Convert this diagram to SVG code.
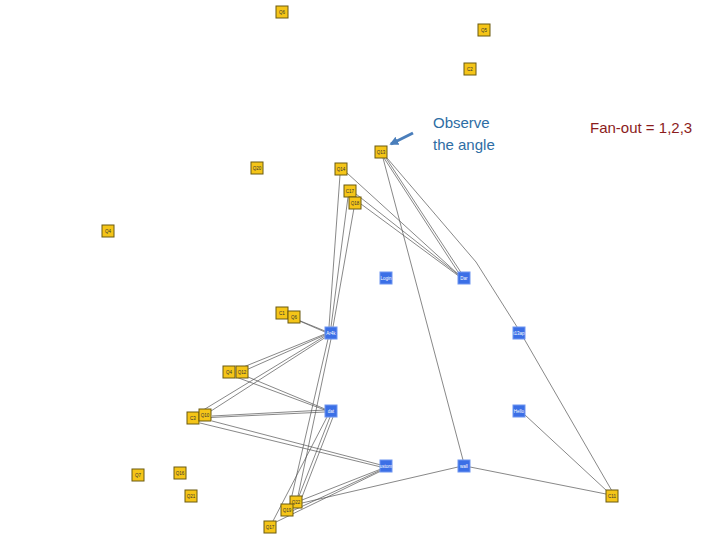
<svg xmlns="http://www.w3.org/2000/svg" width="720" height="540" viewBox="0 0 720 540">
<defs>
<style>
.y rect{fill:#f5c518;stroke:#6b5a10;stroke-width:1}
.b rect{fill:#3b6fe6;stroke:#6f95f0;stroke-width:1}
.y text{font-family:"Liberation Sans",Arial,sans-serif;font-size:4.5px;fill:#333;text-anchor:middle}
.b text{font-family:"Liberation Sans",Arial,sans-serif;font-size:4.5px;fill:#fff;text-anchor:middle}
#edges path{fill:none;stroke:#555;stroke-width:0.7}
.note{font-family:"Liberation Sans",Arial,sans-serif;font-size:15px}
</style>
<marker id="ah" viewBox="0 0 10 10" refX="8" refY="5" markerWidth="3" markerHeight="3" orient="auto"><path d="M0,0L10,5L0,10z" fill="#4a7ebb"/></marker>
</defs>
<rect width="720" height="540" fill="#fff"/>
<g id="edges">
<path d="M383,158L463,460"/>
<path d="M384,158L460,275"/>
<path d="M386,158L462,274"/>
<path d="M387,158L476,262L519,330L612,491"/>
<path d="M347,173L459,275"/>
<path d="M356,194L460,276"/>
<path d="M361,204L460,277"/>
<path d="M340,175L329,327"/>
<path d="M348,197L331,327"/>
<path d="M354,208L333,327"/>
<path d="M298,320L325,331"/>
<path d="M288,316L325,332"/>
<path d="M325,334L236,370"/>
<path d="M325,335L246,370"/>
<path d="M325,336L200,412"/>
<path d="M326,337L211,411"/>
<path d="M248,377L325,409"/>
<path d="M236,377L325,410"/>
<path d="M212,416L325,410"/>
<path d="M200,418L325,412"/>
<path d="M212,421L381,465"/>
<path d="M200,423L381,467"/>
<path d="M328,339L290,504"/>
<path d="M298,496L331,339"/>
<path d="M330,417L299,496"/>
<path d="M333,417L302,497"/>
<path d="M273,521L327,417"/>
<path d="M302,500L381,469"/>
<path d="M292,511L381,470"/>
<path d="M276,522L381,471"/>
<path d="M302,503L458,467"/>
<path d="M470,467L606,494"/>
<path d="M525,415L607,491"/>
</g>
<g id="n_Q6a" class="y"><rect x="276" y="6" width="12" height="12"/><text x="282" y="13.5">Q6</text></g>
<g id="n_Q5" class="y"><rect x="478" y="24" width="12" height="12"/><text x="484" y="31.5">Q5</text></g>
<g id="n_C2" class="y"><rect x="464" y="63" width="12" height="12"/><text x="470" y="70.5">C2</text></g>
<g id="n_Q13" class="y"><rect x="375" y="146" width="12" height="12"/><text x="381" y="153.5">Q13</text></g>
<g id="n_Q20" class="y"><rect x="251" y="162" width="12" height="12"/><text x="257" y="169.5">Q20</text></g>
<g id="n_Q14" class="y"><rect x="335" y="163" width="12" height="12"/><text x="341" y="170.5">Q14</text></g>
<g id="n_C17" class="y"><rect x="344" y="185" width="12" height="12"/><text x="350" y="192.5">C17</text></g>
<g id="n_Q18" class="y"><rect x="349" y="197" width="12" height="12"/><text x="355" y="204.5">Q18</text></g>
<g id="n_Q4a" class="y"><rect x="102" y="225" width="12" height="12"/><text x="108" y="232.5">Q4</text></g>
<g id="n_C1" class="y"><rect x="276" y="307" width="12" height="12"/><text x="282" y="314.5">C1</text></g>
<g id="n_Q6b" class="y"><rect x="288" y="311" width="12" height="12"/><text x="294" y="318.5">Q6</text></g>
<g id="n_Q4b" class="y"><rect x="223" y="366" width="12" height="12"/><text x="229" y="373.5">Q4</text></g>
<g id="n_Q12" class="y"><rect x="236" y="366" width="12" height="12"/><text x="242" y="373.5">Q12</text></g>
<g id="n_C3" class="y"><rect x="187" y="412" width="12" height="12"/><text x="193" y="419.5">C3</text></g>
<g id="n_Q10" class="y"><rect x="199" y="409" width="12" height="12"/><text x="205" y="416.5">Q10</text></g>
<g id="n_Q7" class="y"><rect x="132" y="469" width="12" height="12"/><text x="138" y="476.5">Q7</text></g>
<g id="n_Q16" class="y"><rect x="174" y="467" width="12" height="12"/><text x="180" y="474.5">Q16</text></g>
<g id="n_Q21" class="y"><rect x="185" y="490" width="12" height="12"/><text x="191" y="497.5">Q21</text></g>
<g id="n_Q22" class="y"><rect x="290" y="496" width="12" height="12"/><text x="296" y="503.5">Q22</text></g>
<g id="n_Q19" class="y"><rect x="281" y="504" width="12" height="12"/><text x="287" y="511.5">Q19</text></g>
<g id="n_Q17" class="y"><rect x="264" y="521" width="12" height="12"/><text x="270" y="528.5">Q17</text></g>
<g id="n_C11" class="y"><rect x="606" y="490" width="12" height="12"/><text x="612" y="497.5">C11</text></g>
<g id="n_Login" class="b"><rect x="380" y="272" width="12" height="12"/><text x="386" y="279.5">Login</text></g>
<g id="n_Dar" class="b"><rect x="458" y="272" width="12" height="12"/><text x="464" y="279.5">Dar</text></g>
<g id="n_Ar4k" class="b"><rect x="325" y="327" width="12" height="12"/><text x="331" y="334.5">Ar4k</text></g>
<g id="n_t13ap" class="b"><rect x="513" y="327" width="12" height="12"/><text x="519" y="334.5">t13ap</text></g>
<g id="n_dat" class="b"><rect x="325" y="405" width="12" height="12"/><text x="331" y="412.5">dat</text></g>
<g id="n_Hello" class="b"><rect x="513" y="405" width="12" height="12"/><text x="519" y="412.5">Hello</text></g>
<g id="n_ustom" class="b"><rect x="380" y="460" width="12" height="12"/><text x="386" y="467.5">ustom</text></g>
<g id="n_wall" class="b"><rect x="458" y="460" width="12" height="12"/><text x="464" y="467.5">wall</text></g>
<g id="annot">
<path d="M413,133L391,144" stroke="#4a7ebb" stroke-width="3" fill="none" marker-end="url(#ah)"/>
<text class="note" x="433" y="128" fill="#2e6da4">Observe</text>
<text class="note" x="433" y="150" fill="#2e6da4">the angle</text>
<text class="note" x="590" y="133" fill="#8b1c1c">Fan-out = 1,2,3</text>
</g>
</svg>
